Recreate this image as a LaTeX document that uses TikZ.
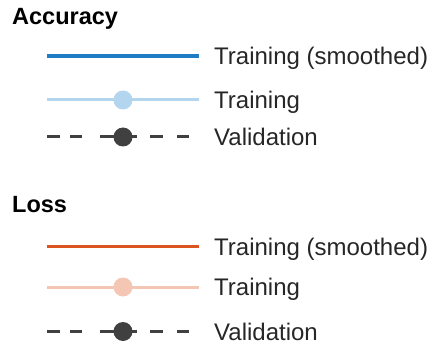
\documentclass[tikz,border=0pt]{standalone}
\usepackage{fontspec}
\setmainfont{Liberation Sans}
\usetikzlibrary{positioning,calc}
\definecolor{accblue}{HTML}{1F7DC4}
\definecolor{acclight}{HTML}{B3D5EE}
\definecolor{lossred}{HTML}{DA5520}
\definecolor{losslight}{HTML}{F4C7B4}
\definecolor{valgray}{HTML}{404040}
\definecolor{inkgray}{HTML}{262626}
\tikzset{
    header/.style = {anchor=base west,
                    font=\bfseries\fontsize{23.5}{28}\selectfont,
                    text=black,
                    inner sep=0pt},
    entry/.style =  {font=\fontsize{24}{28}\selectfont,
                    text=inkgray,
                    text height=17pt,
                    text depth=0pt,
                    inner sep=0pt},
    -,
    smoothline/.style = {line width=3.2pt},
    rawline/.style    = {line width=3pt},
    valline/.style    = {line width=3pt,
                        draw=valgray,
                        dash pattern=on 13pt off 10pt on 12pt off 18pt on 37pt off 13pt on 13pt off 14pt on 12pt off 20pt},
    dotnode/.style    = {circle,
                        inner sep=0pt,
                        minimum size=19pt},
    -,
    node distance=15pt}

\begin{document}
\begin{tikzpicture}[x=1pt,y=1pt]
    \useasboundingbox (0,0) rectangle (430,-347);
    % accuracy legend
    \node[header]   (acc) at (12,-25)     {Accuracy};
    \coordinate     (a1s) at (47,-56);    \coordinate (a1e) at (199,-56);
    \coordinate     (a2s) at (47,-100);   \coordinate (a2e) at (199,-100);
    \coordinate     (a3s) at (47,-137);   \coordinate (a3e) at (199,-137);
    \draw [smoothline,draw=accblue]  (a1s) -- (a1e);
    \draw [rawline,draw=acclight]    (a2s) -- (a2e);
    \draw [valline]                  (a3s) -- (a3e);
    \node[dotnode,fill=acclight] (a2m) at ($(a2s)!0.5!(a2e)$) {};
    \node[dotnode,fill=valgray]  (a3m) at ($(a3s)!0.5!(a3e)$) {};
    \node[entry,right=of a1e]   (a1t) {Training (smoothed)};
    \node[entry,right=of a2e]   (a2t) {Training};
    \node[entry,right=of a3e]   (a3t) {Validation};
    % loss legend
    \node[header]   (loss) at (12,-212)   {Loss};
    \coordinate     (l1s) at (47,-246.5); \coordinate (l1e) at (199,-246.5);
    \coordinate     (l2s) at (47,-287);   \coordinate (l2e) at (199,-287);
    \coordinate     (l3s) at (47,-331.5); \coordinate (l3e) at (199,-331.5);
    \draw [smoothline,draw=lossred]  (l1s) -- (l1e);
    \draw [rawline,draw=losslight]   (l2s) -- (l2e);
    \draw [valline]                  (l3s) -- (l3e);
    \node[dotnode,fill=losslight] (l2m) at ($(l2s)!0.5!(l2e)$) {};
    \node[dotnode,fill=valgray]   (l3m) at ($(l3s)!0.5!(l3e)$) {};
    \node[entry,right=of l1e]   (l1t) {Training (smoothed)};
    \node[entry,right=of l2e]   (l2t) {Training};
    \node[entry,right=of l3e]   (l3t) {Validation};
\end{tikzpicture}
\end{document}
